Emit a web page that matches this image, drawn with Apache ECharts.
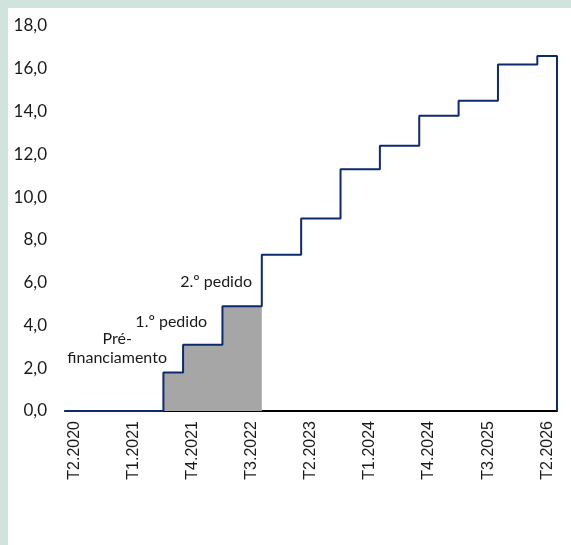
<!DOCTYPE html>
<html>
<head>
<meta charset="utf-8">
<script src="https://cdn.jsdelivr.net/npm/echarts@6/dist/echarts.min.js"></script>
<style>
  html, body { margin: 0; padding: 0; background: #d0e3dc; }
  #main { position: absolute; left: 8px; top: 8px; width: 563px; height: 537px; background: #fff; }
</style>
</head>
<body>
<div id="main"></div>
<script>
// trimestres (T2.2020 .. T2.2026)
var quarters = ['T2.2020', 'T3.2020', 'T4.2020', 'T1.2021', 'T2.2021', 'T3.2021', 'T4.2021',
    'T1.2022', 'T2.2022', 'T3.2022', 'T4.2022', 'T1.2023', 'T2.2023', 'T3.2023', 'T4.2023',
    'T1.2024', 'T2.2024', 'T3.2024', 'T4.2024', 'T1.2025', 'T2.2025', 'T3.2025', 'T4.2025',
    'T1.2026', 'T2.2026'];
// montante acumulado por trimestre
var cumulative = [0, 0, 0, 0, 0, 1.8, 3.1, 3.1, 4.9, 4.9, 7.3, 7.3, 9.0, 9.0, 11.3, 11.3,
    12.4, 12.4, 13.8, 13.8, 14.5, 14.5, 16.2, 16.2, 16.6];
// parte já recebida (sombreada): índices 5..9
var shadedFrom = 5, shadedTo = 9;
var yTicks = [0, 2, 4, 6, 8, 10, 12, 14, 16, 18];
// anotações: [texto, x, y, alinhamento]
var notes = [
    ['Pré-\nfinanciamento', 2.65, 2.95, 'center'],
    ['1.º pedido', 5.4, 4.15, 'center'],
    ['2.º pedido', 9.5, 6.05, 'right']
];

var n = quarters.length;
var stepData = [];
for (var i = 0; i < n; i++) stepData.push([i, cumulative[i]]);
stepData.push([n, cumulative[n - 1]]);
stepData.push([n, 0]);

var shadeData = [];
for (var j = shadedFrom; j <= shadedTo; j++) shadeData.push([j, cumulative[j]]);
shadeData.push([shadedTo + 1, cumulative[shadedTo]]);

var txt = '#1a1a1a';
var option = {
    animation: false,
    backgroundColor: '#fff',
    grid: { left: 57, right: 14, top: 18, bottom: 134, containLabel: false },
    xAxis: [{
        type: 'category',
        data: quarters,
        boundaryGap: true,
        axisLine: { show: true, lineStyle: { color: '#000', width: 2 } },
        axisTick: { show: false },
        axisLabel: {
            interval: 2, rotate: 90, margin: 10,
            fontFamily: 'Liberation Sans', fontSize: 16, color: txt
        },
        splitLine: { show: false }
    }, {
        type: 'value', min: 0, max: n, show: false
    }],
    yAxis: {
        type: 'value', min: yTicks[0], max: yTicks[yTicks.length - 1], interval: 2,
        axisLine: { show: false },
        axisTick: { show: false },
        splitLine: { show: false },
        axisLabel: {
            margin: 18, fontFamily: 'Lato', fontSize: 17, color: txt,
            formatter: function(v) { return v.toFixed(1).replace('.', ','); }
        }
    },
    series: [{
        type: 'line',
        xAxisIndex: 1,
        step: 'end',
        data: shadeData,
        symbol: 'none',
        lineStyle: { width: 0 },
        areaStyle: { color: '#a6a6a6', opacity: 1 },
        z: 1
    }, {
        type: 'line',
        xAxisIndex: 1,
        step: 'end',
        data: stepData,
        symbol: 'none',
        lineStyle: { color: '#0c2a6e', width: 2 },
        z: 3,
        markPoint: {
            symbol: 'circle',
            symbolSize: 0,
            data: notes.map(function(t) {
                return {
                    coord: [t[1], t[2]],
                    label: {
                        show: true, formatter: t[0], position: 'inside', align: t[3],
                        fontFamily: 'Lato', fontSize: 16, color: txt, lineHeight: 19
                    }
                };
            })
        }
    }]
};

var myChart = echarts.init(document.getElementById('main'));
myChart.setOption(option);
</script>
</body>
</html>
